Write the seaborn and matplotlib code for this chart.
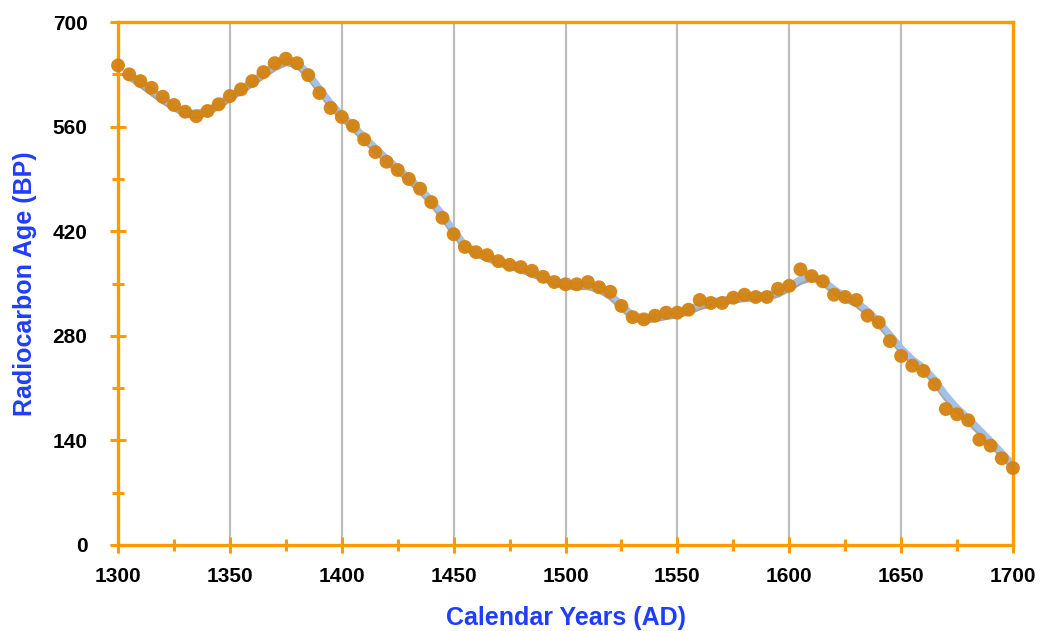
import numpy as np
import pandas as pd
import matplotlib.pyplot as plt
import matplotlib.patheffects as pe
from matplotlib.ticker import MultipleLocator
import seaborn as sns

# === Data === #
years = list(range(1300, 1705, 5))
radiocarbon_age = [
    642, 630, 621, 612, 600, 589, 580, 574, 581, 590,
    601, 610, 621, 633, 645, 651, 645, 629, 605, 585,
    573, 561, 543, 526, 513, 502, 490, 477, 459, 438,
    416, 399, 392, 388, 380, 375, 372, 367, 359, 352,
    349, 349, 352, 345, 339, 320, 305, 302, 307, 311,
    311, 315, 328, 324, 324, 331, 335, 332, 332, 343,
    347, 369, 360, 353, 335, 332, 328, 307, 298, 273,
    253, 240, 233, 215, 182, 175, 167, 141, 133, 116,
    103,
]

curve_years = list(range(1305, 1705, 5))
curve_age = [
    630, 620, 609, 598, 589, 580, 578, 582, 591,
    601, 611, 621, 632, 642, 649, 646, 632, 612, 592,
    576, 562, 547, 532, 518, 505, 492, 478, 462, 443,
    422, 402, 393, 387, 381, 376, 372, 366, 360, 354,
    350, 349, 349, 345, 336, 322, 308, 304, 306, 309,
    311, 316, 322, 326, 328, 331, 333, 334, 335, 339,
    347, 356, 361, 355, 343, 333, 326, 314, 300, 282,
    264, 249, 238, 222, 201, 184, 170, 155, 140, 124,
    108,
]

points = pd.DataFrame({"year": years, "age": radiocarbon_age})
curve = pd.DataFrame({"year": curve_years, "age": curve_age})

# === Style === #
sns.set_style("white")
plt.rcParams["font.family"] = ["Liberation Sans", "DejaVu Sans"]

orange = "#ff9a00"
blue_label = "#1f3dff"

fig = plt.figure(figsize=(10.4, 6.31), dpi=100)
ax = fig.add_axes([0.1135, 0.1363, 0.8605, 0.8287])

# vertical grid
for gx in range(1350, 1700, 50):
    ax.axvline(gx, color="#bdbdbd", lw=1.6, zorder=0)

# smooth calibration curve with soft shadow
sns.lineplot(data=curve, x="year", y="age", ax=ax, color="#a3c0e6", lw=4.5,
             zorder=2,
             path_effects=[pe.SimpleLineShadow(offset=(0, -2), shadow_color="#808080", alpha=0.7),
                           pe.Normal()])
sns.scatterplot(data=points, x="year", y="age", ax=ax, color="#d4820f", s=100,
                edgecolor="none", zorder=3, alpha=0.95, clip_on=False)

ax.set_xlim(1300, 1700)
ax.set_ylim(0, 700)
ax.xaxis.set_major_locator(MultipleLocator(50))
ax.xaxis.set_minor_locator(MultipleLocator(25))
ax.yaxis.set_major_locator(MultipleLocator(140))
ax.yaxis.set_minor_locator(MultipleLocator(70))

for s in ax.spines.values():
    s.set_color(orange)
    s.set_linewidth(2.4)

ax.tick_params(which="both", bottom=True, left=True, top=False, right=False)
ax.tick_params(which="major", direction="inout", length=12, width=2.2, color=orange,
               labelsize=15, labelcolor="black")
ax.tick_params(which="minor", direction="inout", length=8.5, width=2.2, color=orange)
ax.tick_params(axis="x", which="major", pad=10)
ax.tick_params(axis="y", which="major", pad=16)
for lab in ax.get_xticklabels() + ax.get_yticklabels():
    lab.set_fontweight("bold")

ax.set_xlabel("Calendar Years (AD)", color=blue_label, fontsize=18, fontweight="bold", labelpad=14)
ax.set_ylabel("Radiocarbon Age (BP)", color=blue_label, fontsize=18, fontweight="bold", labelpad=11)

fig.savefig("out.png", dpi=100)
